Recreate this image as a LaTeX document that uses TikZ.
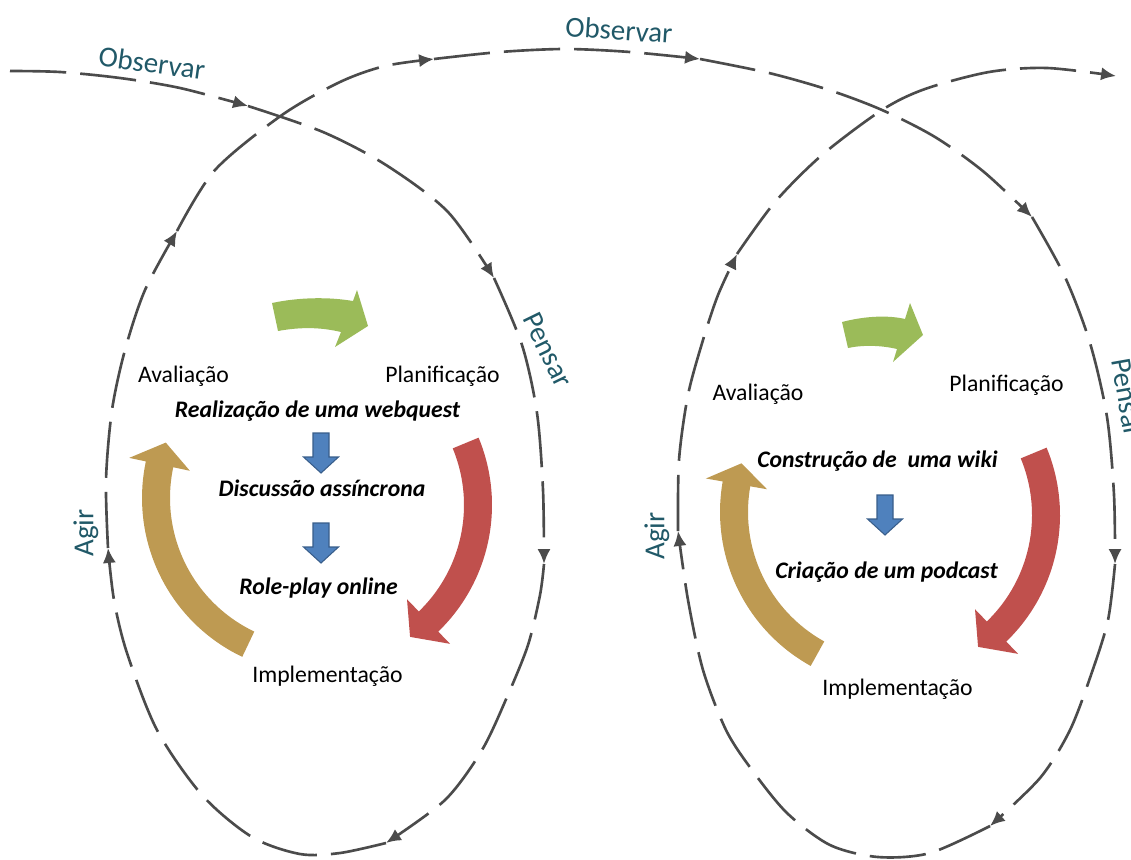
\documentclass[tikz,border=0pt]{standalone}
\usepackage{fontspec}
\setmainfont{Carlito}
\usetikzlibrary{arrows.meta}
\definecolor{spiralc}{RGB}{75,75,75}
\definecolor{labelc}{RGB}{33,89,104}
\definecolor{greenc}{RGB}{155,187,89}
\definecolor{redc}{RGB}{192,80,77}
\definecolor{tanc}{RGB}{190,154,82}
\definecolor{bluec}{RGB}{79,129,189}
\definecolor{bluel}{RGB}{56,93,138}
\newcommand{\circarrow}[6]{%
  \fill[#1] plot[domain=#4:#5,samples=40] ({#2+176*cos(\x)},{#3-176*sin(\x)})
    -- ({#2+193*cos(#5)},{#3-193*sin(#5)})
    -- ({#2+162*cos(#6)},{#3-162*sin(#6)})
    -- ({#2+131*cos(#5)},{#3-131*sin(#5)})
    -- plot[domain=#5:#4,samples=40] ({#2+148*cos(\x)},{#3-148*sin(\x)})
    -- cycle;}
\newcommand{\bluedown}[2]{%
  \filldraw[fill=bluec, draw=bluel, line width=0.6pt]
    (#1-8,#2) -- (#1+8,#2) -- (#1+8,#2+24) -- (#1+17.5,#2+24) -- (#1,#2+40)
    -- (#1-17.5,#2+24) -- (#1-8,#2+24) -- cycle;}
\begin{document}
\begin{tikzpicture}[x=0.02cm, y=-0.02cm,
  spiral/.style={draw=spiralc, line width=1.5pt, dash pattern=on 32pt off 8pt,
    -{Latex[length=8.5pt,width=7.5pt]}},
  lab/.style={text=labelc, font=\fontsize{16.5}{18}\selectfont, inner sep=0pt},
  txt/.style={font=\fontsize{13.5}{15}\selectfont, inner sep=0pt, anchor=base},
  bi/.style={font=\fontsize{13.5}{15}\selectfont\bfseries\itshape, inner sep=0pt, anchor=base}]
\useasboundingbox (0,0) rectangle (1131,859);

% spiral coordinates (arrow tips)
\coordinate (a0) at (10,71);
\coordinate (a1) at (248,106);
\coordinate (a2) at (494,278);
\coordinate (a3) at (544,564);
\coordinate (a4) at (386,843);
\coordinate (a5) at (108,548);
\coordinate (a6) at (177,231);
\coordinate (a7) at (434,59);
\coordinate (a8) at (700,59);
\coordinate (a9) at (1032,217);
\coordinate (a10) at (1115,564);
\coordinate (a11) at (990,826);
\coordinate (a12) at (678,531);
\coordinate (a13) at (737,254);
\coordinate (a14) at (1116,76);

\draw[spiral] plot[smooth] coordinates {(a0) (60,72) (120,78) (180,88) (a1)};
\draw[spiral] plot[smooth] coordinates {(a1) (323,132) (386,165) (448,212) (a2)};
\draw[spiral] plot[smooth] coordinates {(a2) (522,345) (537,413) (543,490) (a3)};
\draw[spiral] plot[smooth] coordinates {(a3) (540,595) (528,645) (507,697) (482,750) (445,800) (a4)};
\draw[spiral] plot[smooth] coordinates {(a4) (340,853) (300,854) (252,837) (202,795) (157,730) (127,653) (114,600) (a5)};
\draw[spiral] plot[smooth] coordinates {(a5) (106,480) (112,410) (125,350) (145,290) (a6)};
\draw[spiral] plot[smooth] coordinates {(a6) (215,170) (282,115) (340,82) (385,66) (a7)};
\draw[spiral] plot[smooth] coordinates {(a7) (500,52) (565,49) (630,52) (a8)};
\draw[spiral] plot[smooth] coordinates {(a8) (769,73) (829,90) (882,110) (935,137) (984,172) (a9)};
\draw[spiral] plot[smooth] coordinates {(a9) (1065,277) (1090,343) (1107,417) (1114,495) (a10)};
\draw[spiral] plot[smooth] coordinates {(a10) (1108,620) (1092,672) (1070,730) (1040,778) (a11)};
\draw[spiral] plot[smooth] coordinates {(a11) (930,853) (878,857) (830,845) (787,813) (752,770) (726,730) (703,670) (688,600) (a12)};
\draw[spiral] plot[smooth] coordinates {(a12) (679,460) (688,395) (703,340) (718,295) (a13)};
\draw[spiral] plot[smooth] coordinates {(a13) (775,202) (822,155) (882,110) (925,89) (989,72) (1047,68) (a14)};

% spiral labels
\node[lab, rotate=-8] (obs1) at (152,63) {Observar};
\node[lab, rotate=-4] (obs2) at (619,30) {Observar};
\node[lab, rotate=-64] (pen1) at (548,350) {Pensar};
\node[lab, rotate=-80] (pen2) at (1127,398) {Pensar};
\node[lab, rotate=90] (agir1) at (86,533) {Agir};
\node[lab, rotate=90] (agir2) at (657,536) {Agir};

% left cycle
\fill[greenc] (272,303) .. controls (300,297) and (330,297) .. (353,301) -- (357,290)
  -- (368,326) -- (335,347) -- (341,332) .. controls (320,327) and (300,327) .. (278,331) -- cycle;
\circarrow{redc}{316}{505}{22.5}{-46}{-54.5}
\circarrow{tanc}{318}{498}{244.5}{168}{160}
\bluedown{321}{433}
\bluedown{321}{523}
\node[txt] (av1) at (183.5,382) {Avaliação};
\node[txt] (pl1) at (442.5,382) {Planificação};
\node[bi] (w1) at (317.5,417) {Realização de uma webquest};
\node[bi] (w2) at (322,496) {Discussão assíncrona};
\node[bi] (w3) at (318.5,594) {Role-play online};
\node[txt] (im1) at (327.5,682) {Implementação};

% right cycle
\fill[greenc] (842,322) .. controls (865,316) and (888,315) .. (905,319) -- (910,303)
  -- (923,335) -- (893,362) -- (897,349) .. controls (880,345) and (862,345) .. (848,348) -- cycle;
\circarrow{redc}{884}{515}{22.5}{-46}{-54.5}
\circarrow{tanc}{896}{512}{241}{170}{162.5}
\bluedown{885}{495}
\node[txt] (av2) at (758,400.5) {Avaliação};
\node[txt] (pl2) at (1006.5,391.5) {Planificação};
\node[bi] (w4) at (877.5,467) {Construção de\ \ uma wiki};
\node[bi] (w5) at (886.5,578) {Criação de um podcast};
\node[txt] (im2) at (897.5,695) {Implementação};
\end{tikzpicture}
\end{document}
